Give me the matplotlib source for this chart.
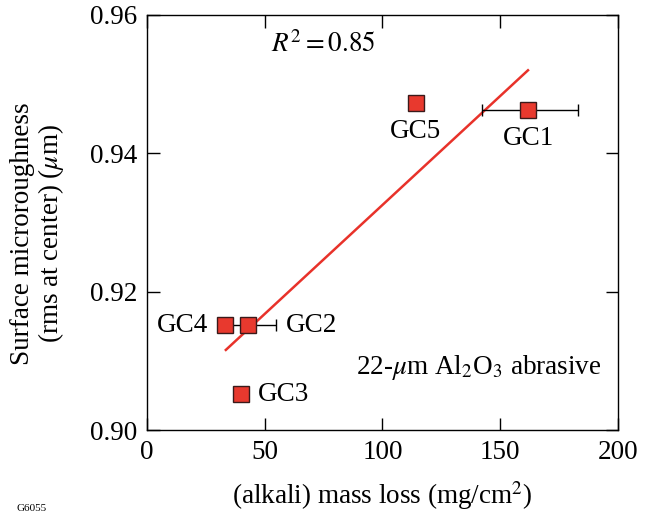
import matplotlib
matplotlib.use("Agg")
import matplotlib.pyplot as plt

plt.rcParams['font.family'] = ['Liberation Serif', 'DejaVu Serif']
plt.rcParams['mathtext.fontset'] = 'stix'

names = ["GC1", "GC2", "GC3", "GC4", "GC5"]
mass_loss = [161.8, 42.9, 39.9, 33.1, 114.2]
roughness = [0.9463, 0.9152, 0.9053, 0.9152, 0.9473]
xerr_lo = [19.5, 12.0, 0.0, 0.0, 0.0]
xerr_hi = [21.2, 11.9, 0.0, 0.0, 0.0]
fit_x = [33.5, 161.8]
fit_y = [0.9116, 0.9520]

FS = 19.5

fig = plt.figure(figsize=(6.56, 5.14), dpi=100)
ax = fig.add_axes([0.224, 0.163, 0.718, 0.808])

ax.plot(fit_x, fit_y, color='#e8322a', lw=1.8, zorder=2)
for x, y, lo, hi in zip(mass_loss, roughness, xerr_lo, xerr_hi):
    if lo > 0 or hi > 0:
        ax.errorbar([x], [y], xerr=[[lo], [hi]], fmt='none', ecolor='black',
                    elinewidth=1.0, capsize=4, capthick=1.0, zorder=3)
ax.plot(mass_loss, roughness, 's', ms=11.5, mfc='#e8392e', mec='#3a1a1a',
        mew=1.0, ls='none', zorder=4)

label_pos = {"GC1": (162, 0.9422, 'center'), "GC2": (59, 0.9152, 'left'),
             "GC3": (47, 0.9051, 'left'), "GC4": (26, 0.9152, 'right'),
             "GC5": (114, 0.9432, 'center')}
for n in names:
    lx, ly, ha = label_pos[n]
    ax.text(lx, ly, n, ha=ha, va='center', fontsize=FS)

ax.text(75, 0.9557, r'$R^2 = 0.85$', ha='center', va='center', fontsize=FS)
ax.text(141, 0.9090, r'22-$\mu$m Al$_2$O$_3$ abrasive', ha='center', va='center',
        fontsize=FS)

ax.set_xlim(0, 200)
ax.set_ylim(0.90, 0.96)
ax.set_xticks([0, 50, 100, 150, 200])
ax.set_yticks([0.90, 0.92, 0.94, 0.96])
ax.set_yticklabels(['0.90', '0.92', '0.94', '0.96'])
ax.tick_params(direction='in', top=True, right=True, length=9, width=1,
               labelsize=FS, pad=7)
for s in ax.spines.values():
    s.set_linewidth(1)

ax.set_xlabel(r'(alkali) mass loss (mg/cm$^2$)', fontsize=FS, labelpad=10)
ax.set_ylabel('Surface microroughness\n(rms at center) ($\\mu$m)', fontsize=FS,
              linespacing=1.05)
ax.yaxis.set_label_coords(-0.172, 0.474)
fig.text(0.025, 0.002, 'G6055', fontsize=8, ha='left', va='bottom')

fig.savefig('out.png', dpi=100)
